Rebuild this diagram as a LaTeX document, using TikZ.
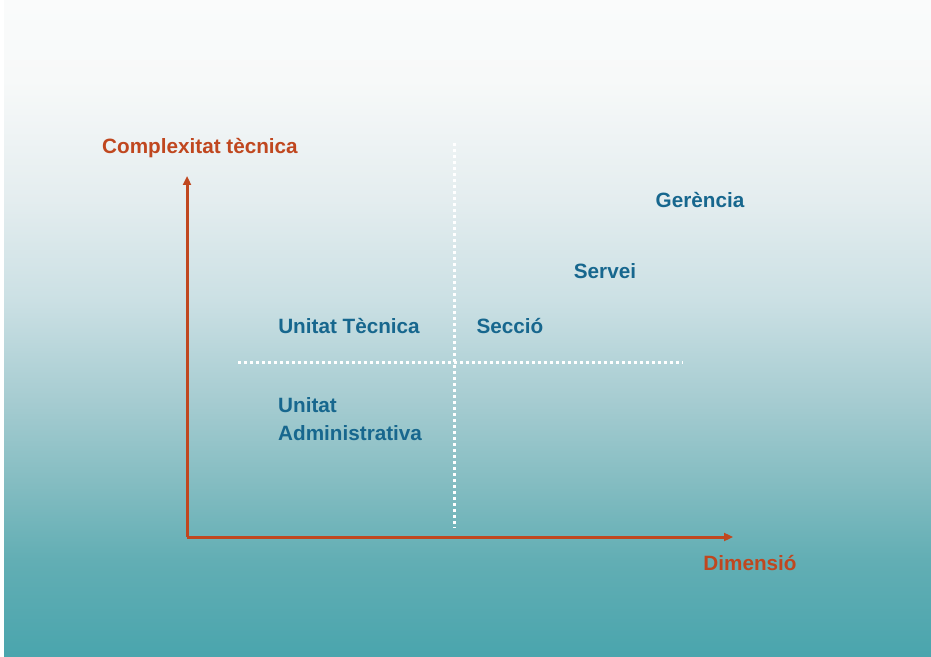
\documentclass[tikz,border=0pt]{standalone}
\usepackage{fontspec}
\setmainfont{Liberation Sans}
\usepackage {tikz}
\usetikzlibrary {positioning}
\usetikzlibrary{arrows.meta}
\definecolor{axisred}{HTML}{C0471F}
\definecolor{unitblue}{HTML}{17678E}
\definecolor{bgA}{HTML}{4AA5AD}
\definecolor{bgB}{HTML}{62AEB4}
\definecolor{bgC}{HTML}{85BDC2}
\definecolor{bgD}{HTML}{A6CCD1}
\definecolor{bgE}{HTML}{CBE0E4}
\definecolor{bgF}{HTML}{E4EDEF}
\definecolor{bgG}{HTML}{F7F9F9}
\definecolor{bgH}{HTML}{FAFBFB}
\pgfdeclareverticalshading{slidebg}{100bp}{
    color(0bp)=(bgA); color(25bp)=(bgA); color(32.3bp)=(bgB);
    color(38.4bp)=(bgC); color(44.5bp)=(bgD); color(52.1bp)=(bgE);
    color(59.8bp)=(bgF); color(68.9bp)=(bgG); color(75bp)=(bgH);
    color(100bp)=(bgH)}
\tikzset{
    axisline/.style = {draw=axisred, line width=3pt, -{Triangle[length=9pt,width=8pt]}},
    axislabel/.style = {text=axisred, font=\fontsize{20.7}{28}\selectfont\bfseries, inner sep=0pt},
    unitlabel/.style = {text=unitblue, font=\fontsize{20.7}{28}\selectfont\bfseries, inner sep=0pt},
    gridline/.style = {draw=white, line width=3pt, dash pattern=on 3pt off 3pt}}

\begin{document}
\begin{tikzpicture}[x=1pt,y=1pt]
    \useasboundingbox (0,0) rectangle (931,656);
    \fill[white] (0,0) rectangle (931,656);
    \shade[shading=slidebg] (4,0) rectangle (931,656);
    % axes
    \coordinate (origin) at (187,119);
    \coordinate (ytip) at (187,480);
    \coordinate (xtip) at (733,119);
    \draw[axisline] (origin) -- (ytip);
    \draw[axisline] (origin) -- (xtip);
    % dotted quadrants
    \coordinate (vtop) at (454,513);
    \coordinate (vbot) at (454,128);
    \coordinate (hleft) at (238,293);
    \coordinate (hright) at (683,293);
    \draw[gridline] (vtop) -- (vbot);
    \draw[gridline] (hleft) -- (hright);
    % labels
    \node[axislabel] (complexitat) at (200,508) {Complexitat tècnica};
    \node[axislabel] (dimensio) at (750,93) {Dimensió};
    \node[unitlabel] (gerencia) at (700,456) {Gerència};
    \node[unitlabel] (servei) at (605,385) {Servei};
    \node[unitlabel] (tecnica) at (349,330) {Unitat Tècnica};
    \node[unitlabel] (seccio) at (510,330) {Secció};
    \node[unitlabel, anchor=west, align=left] (admin) at (278,237) {Unitat\\Administrativa};
\end{tikzpicture}
\end{document}
